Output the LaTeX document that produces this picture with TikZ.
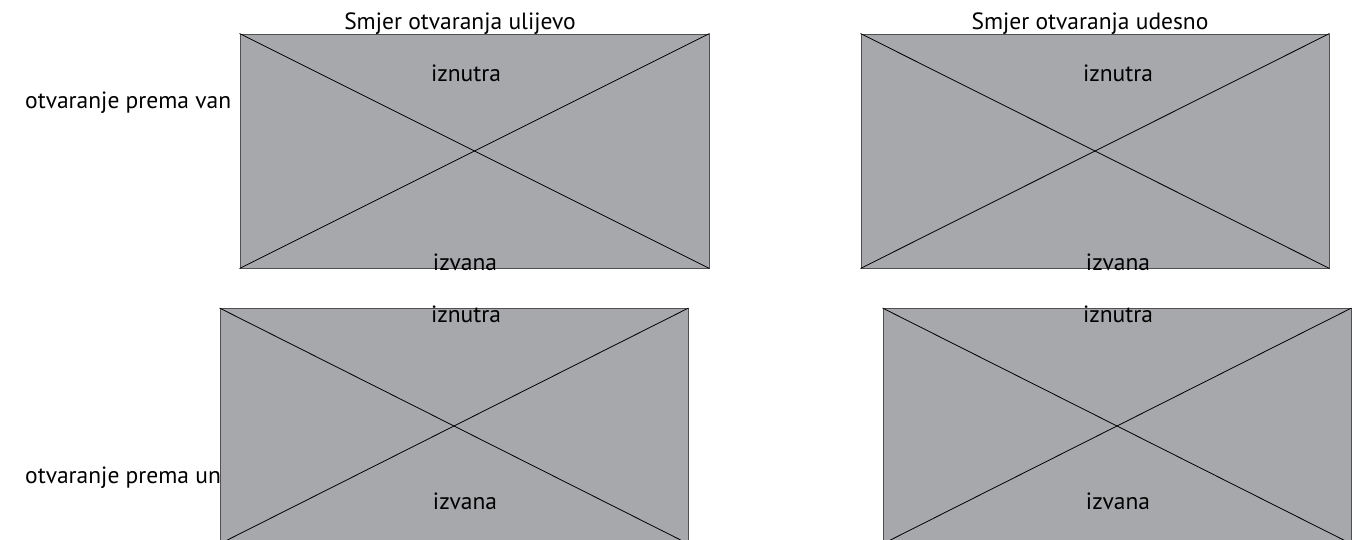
\documentclass[tikz,border=0pt]{standalone}
\usepackage{fontspec}
\setmainfont{PT Sans}
\usepackage{tikz}

\definecolor{doorgray}{RGB}{167,168,171}
\definecolor{edgegray}{RGB}{80,80,82}

\tikzset{
  door/.style={draw=edgegray, fill=doorgray, line width=0.9pt, inner sep=0pt,
    minimum width=468pt, minimum height=234pt},
  txt/.style={font=\fontsize{23.5}{28}\selectfont, inner sep=0pt, anchor=base},
  diag/.style={line width=0.8pt, black}
}

\begin{document}
\begin{tikzpicture}[x=1pt,y=-1pt]
 \useasboundingbox (0,0) rectangle (1366,540);
 \clip (0,0) rectangle (1366,540);
 \draw (25,109) node[txt, anchor=base west] (van) {otvaranje prema van};
 \draw (25,483) node[txt, anchor=base west] (unutra) {otvaranje prema un};

 \draw (474.5,151) node[door, minimum width=469pt] (lijevoVan) {};
 \draw (1095,151) node[door] (desnoVan) {};
 \draw (454,426) node[door, minimum height=235pt] (lijevoUn) {};
 \draw (1117,426) node[door, minimum height=235pt] (desnoUn) {};

     \path[diag] (lijevoVan.north west) edge (lijevoVan.south east);
     \path[diag] (lijevoVan.south west) edge (lijevoVan.north east);
     \path[diag] (desnoVan.north west) edge (desnoVan.south east);
     \path[diag] (desnoVan.south west) edge (desnoVan.north east);
     \path[diag] (lijevoUn.north west) edge (lijevoUn.south east);
     \path[diag] (lijevoUn.south west) edge (lijevoUn.north east);
     \path[diag] (desnoUn.north west) edge (desnoUn.south east);
     \path[diag] (desnoUn.south west) edge (desnoUn.north east);

 \draw (460,30) node[txt] (naslovLijevo) {Smjer otvaranja ulijevo};
 \draw (1090,30) node[txt] (naslovDesno) {Smjer otvaranja udesno};

 \draw (466,82) node[txt] (lvIznutra) {iznutra};
 \draw (465,270) node[txt] (lvIzvana) {izvana};
 \draw (1118,82) node[txt] (dvIznutra) {iznutra};
 \draw (1118,270) node[txt] (dvIzvana) {izvana};
 \draw (466,322) node[txt] (luIznutra) {iznutra};
 \draw (465,509) node[txt] (luIzvana) {izvana};
 \draw (1118,322) node[txt] (duIznutra) {iznutra};
 \draw (1118,509) node[txt] (duIzvana) {izvana};
\end{tikzpicture}
\end{document}
